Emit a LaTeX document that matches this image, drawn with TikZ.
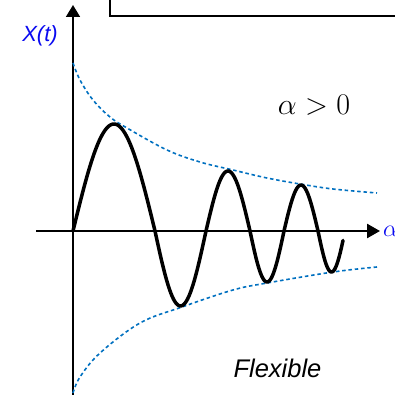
\RequirePackage{fix-cm}
\documentclass[tikz,border=0pt]{standalone}
\usepackage{fontspec}
\setmainfont{Liberation Sans}
\usetikzlibrary{arrows.meta}
\definecolor{envblue}{RGB}{0,112,192}
\definecolor{lblblue}{RGB}{10,10,240}
\tikzset{
  envelope/.style={envblue,line width=1.6pt,dash pattern=on 3.5pt off 2.8pt},
  wave/.style={line width=3.5pt,line join=round,line cap=round},
  frame/.style={line width=2pt},
  lbl/.style={inner sep=0pt,anchor=base}
}
\begin{document}
\begin{tikzpicture}[x=1pt,y=-1pt]
\useasboundingbox (0,0) rectangle (395,395);
% coordinates
\coordinate (O) at (73,231);
\coordinate (ybot) at (73,400);
\coordinate (ytop) at (73,5);
\coordinate (xleft) at (36,231);
\coordinate (xright) at (380,231);
% frame (partly off the page)
\draw[frame] (110,-20) -- (110,16) -- (430,16);
% axes
\draw[line width=1.8pt,-{Triangle[length=12pt,width=14pt]}] (ybot) -- (ytop);
\draw[line width=2.6pt,-{Triangle[length=13pt,width=14pt]}] (xleft) -- (xright);
% envelopes
\draw[envelope] plot[smooth,tension=0.6] coordinates {(73,63) (80,80) (93,100) (110,117) (127,128) (167,150) (200,162) (233,170) (267,178) (300,184) (333,189) (377,193)};
\draw[envelope] plot[smooth,tension=0.6] coordinates {(73,393) (80,377) (100,353) (140,323) (182,307) (233,290) (267,283) (333,272) (377,267)};
% wave
\draw[wave] plot[domain=73:155,samples=60] (\x,{231-107*sin(180*(\x-73)/82)})
  -- plot[domain=155:206,samples=40] (\x,{231+75*sin(180*(\x-155)/51)})
  -- plot[domain=206:250,samples=40] (\x,{231-60*sin(180*(\x-206)/44)})
  -- plot[domain=250:284,samples=30] (\x,{231+51*sin(180*(\x-250)/34)})
  -- plot[domain=284:318,samples=30] (\x,{231-46*sin(180*(\x-284)/34)})
  -- plot[domain=318:343,samples=30] (\x,{231+41*sin(180*(\x-318)/27)});
% labels
\node[lbl,text=lblblue,font=\fontsize{22}{26}\selectfont\itshape] (xt) at (40,42) {X(t)};
\node[lbl,text=black,font=\fontsize{30}{34}\selectfont] (cond) at (314,115) {$\alpha > 0$};
\node[lbl,text=black,font=\fontsize{25.5}{30}\selectfont\itshape] (flex) at (277.5,377) {Flexible};
\node[inner sep=0pt,anchor=west,text=lblblue,font=\fontsize{24}{28}\selectfont] (alab) at (383,231) {$\alpha$};
\end{tikzpicture}
\end{document}
